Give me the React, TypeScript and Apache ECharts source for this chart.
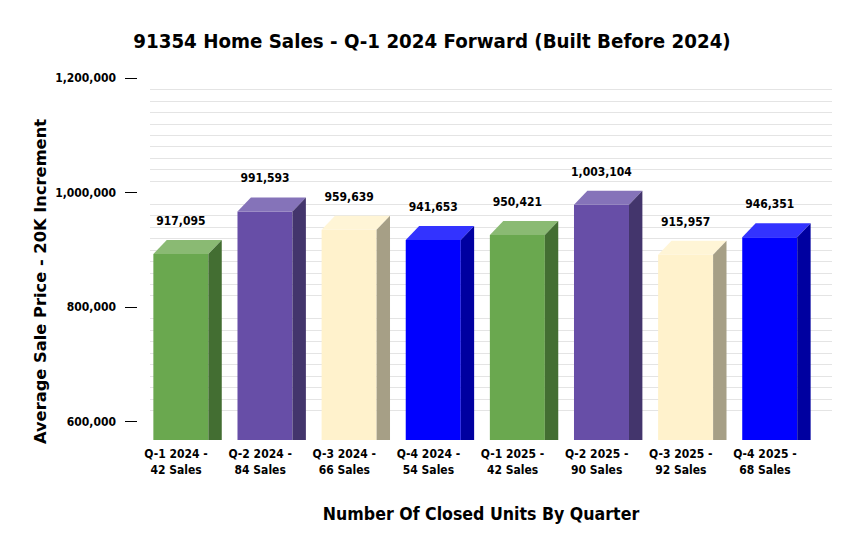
import { useEffect, useRef } from 'react';
import * as echarts from 'echarts';

const quarters = ['Q-1 2024', 'Q-2 2024', 'Q-3 2024', 'Q-4 2024', 'Q-1 2025', 'Q-2 2025', 'Q-3 2025', 'Q-4 2025'];
const closedSales = [42, 84, 66, 54, 42, 90, 92, 68];
const avgPrice = [917095, 991593, 959639, 941653, 950421, 1003104, 915957, 946351];
const floorValue = 568000;

// front, top, side shades per bar
const palette = [
  ['#6aa84f', '#8aba73', '#436e32'],
  ['#674ea7', '#8573b9', '#43356c'],
  ['#fff2cc', '#fff5d6', '#a69f86'],
  ['#0000ff', '#3333ff', '#0000a0'],
];

const FONT = '"DejaVu Sans", Verdana, sans-serif';
const NARROW = '"DejaVu Sans Condensed", "Liberation Sans Narrow", "DejaVu Sans", sans-serif';

export default function App() {
  const ref = useRef<HTMLDivElement>(null);

  useEffect(() => {
    document.body.style.margin = '0';
    if (!ref.current) return;
    const chart = echarts.init(ref.current, undefined, { renderer: 'svg' });
    const dx = 13.4;
    const dy = 14;
    const halfW = 27.5;
    chart.setOption({
      animation: false,
      backgroundColor: '#ffffff',
      grid: [
        { left: 150, right: 28, top: 78, bottom: 131.3 },
        { left: 134, right: 53, top: 78, bottom: 131.3 },
      ],
      xAxis: [
        { type: 'value', gridIndex: 0, show: false },
        {
          type: 'category',
          gridIndex: 1,
          data: quarters.map((q, i) => `${q} -\n${closedSales[i]} Sales`),
          axisLine: { show: false },
          axisTick: { show: false },
          axisLabel: {
            margin: 24,
            color: '#000',
            fontFamily: NARROW,
            fontWeight: 'bold',
            fontSize: 12,
            lineHeight: 16,
            interval: 0,
          },
        },
      ],
      yAxis: [
        {
          type: 'value',
          gridIndex: 0,
          min: 600000,
          max: 1200000,
          interval: 200000,
          offset: 13,
          axisLine: { show: false, onZero: false },
          axisTick: { show: true, length: 12, lineStyle: { color: '#000', width: 1 } },
          axisLabel: {
            margin: 21,
            color: '#000',
            fontFamily: NARROW,
            fontWeight: 'bold',
            fontSize: 12,
            formatter: (v: number) => v.toLocaleString('en-US'),
          },
          splitLine: { show: false },
          minorTick: { show: false, splitNumber: 10 },
          minorSplitLine: { show: true, lineStyle: { color: '#e4e4e4', width: 1 } },
        },
        { type: 'value', gridIndex: 1, min: 600000, max: 1200000, show: false },
      ],
      graphic: [
        {
          type: 'text',
          x: 432,
          y: 41,
          style: {
            text: '91354 Home Sales - Q-1 2024 Forward (Built Before 2024)',
            fill: '#000',
            font: `bold 20.3px ${NARROW}`,
            textAlign: 'center',
            textVerticalAlign: 'middle',
          },
        },
        {
          type: 'text',
          x: 40,
          y: 281.5,
          rotation: Math.PI / 2,
          style: {
            text: 'Average Sale Price - 20K Increment',
            fill: '#000',
            font: `bold 16.3px ${FONT}`,
            textAlign: 'center',
            textVerticalAlign: 'middle',
          },
        },
        {
          type: 'text',
          x: 481,
          y: 514,
          style: {
            text: 'Number Of Closed Units By Quarter',
            fill: '#000',
            font: `bold 17.6px ${NARROW}`,
            textAlign: 'center',
            textVerticalAlign: 'middle',
          },
        },
      ],
      series: [
        {
          type: 'custom',
          xAxisIndex: 1,
          yAxisIndex: 1,
          clip: false,
          data: avgPrice.map((v, i) => [i, v]),
          renderItem: (params: any, api: any) => {
            const i = api.value(0);
            const v = api.value(1);
            const [cx, backTop] = api.coord([i, v]);
            const bottom = api.coord([i, floorValue])[1];
            const [front, top, side] = palette[i % palette.length];
            const fl = cx - 22.7;
            const fr = fl + 2 * halfW;
            const ft = backTop + dy;
            return {
              type: 'group',
              children: [
                {
                  type: 'rect',
                  shape: { x: fl, y: ft, width: fr - fl, height: bottom - ft },
                  style: { fill: front },
                },
                {
                  type: 'polygon',
                  shape: { points: [[fl, ft], [fr, ft], [fr + dx, ft - dy], [fl + dx, ft - dy]] },
                  style: { fill: top },
                },
                {
                  type: 'polygon',
                  shape: { points: [[fr, ft], [fr + dx, ft - dy], [fr + dx, bottom], [fr, bottom]] },
                  style: { fill: side },
                },
                {
                  type: 'text',
                  x: (fl + fr) / 2,
                  y: backTop - 19,
                  style: {
                    text: v.toLocaleString('en-US'),
                    fill: '#000',
                    font: `bold 12px ${NARROW}`,
                    textAlign: 'center',
                    textVerticalAlign: 'middle',
                  },
                },
              ],
            };
          },
        },
      ],
    });
    return () => chart.dispose();
  }, []);

  return <div ref={ref} style={{ width: 860, height: 553 }} />;
}
